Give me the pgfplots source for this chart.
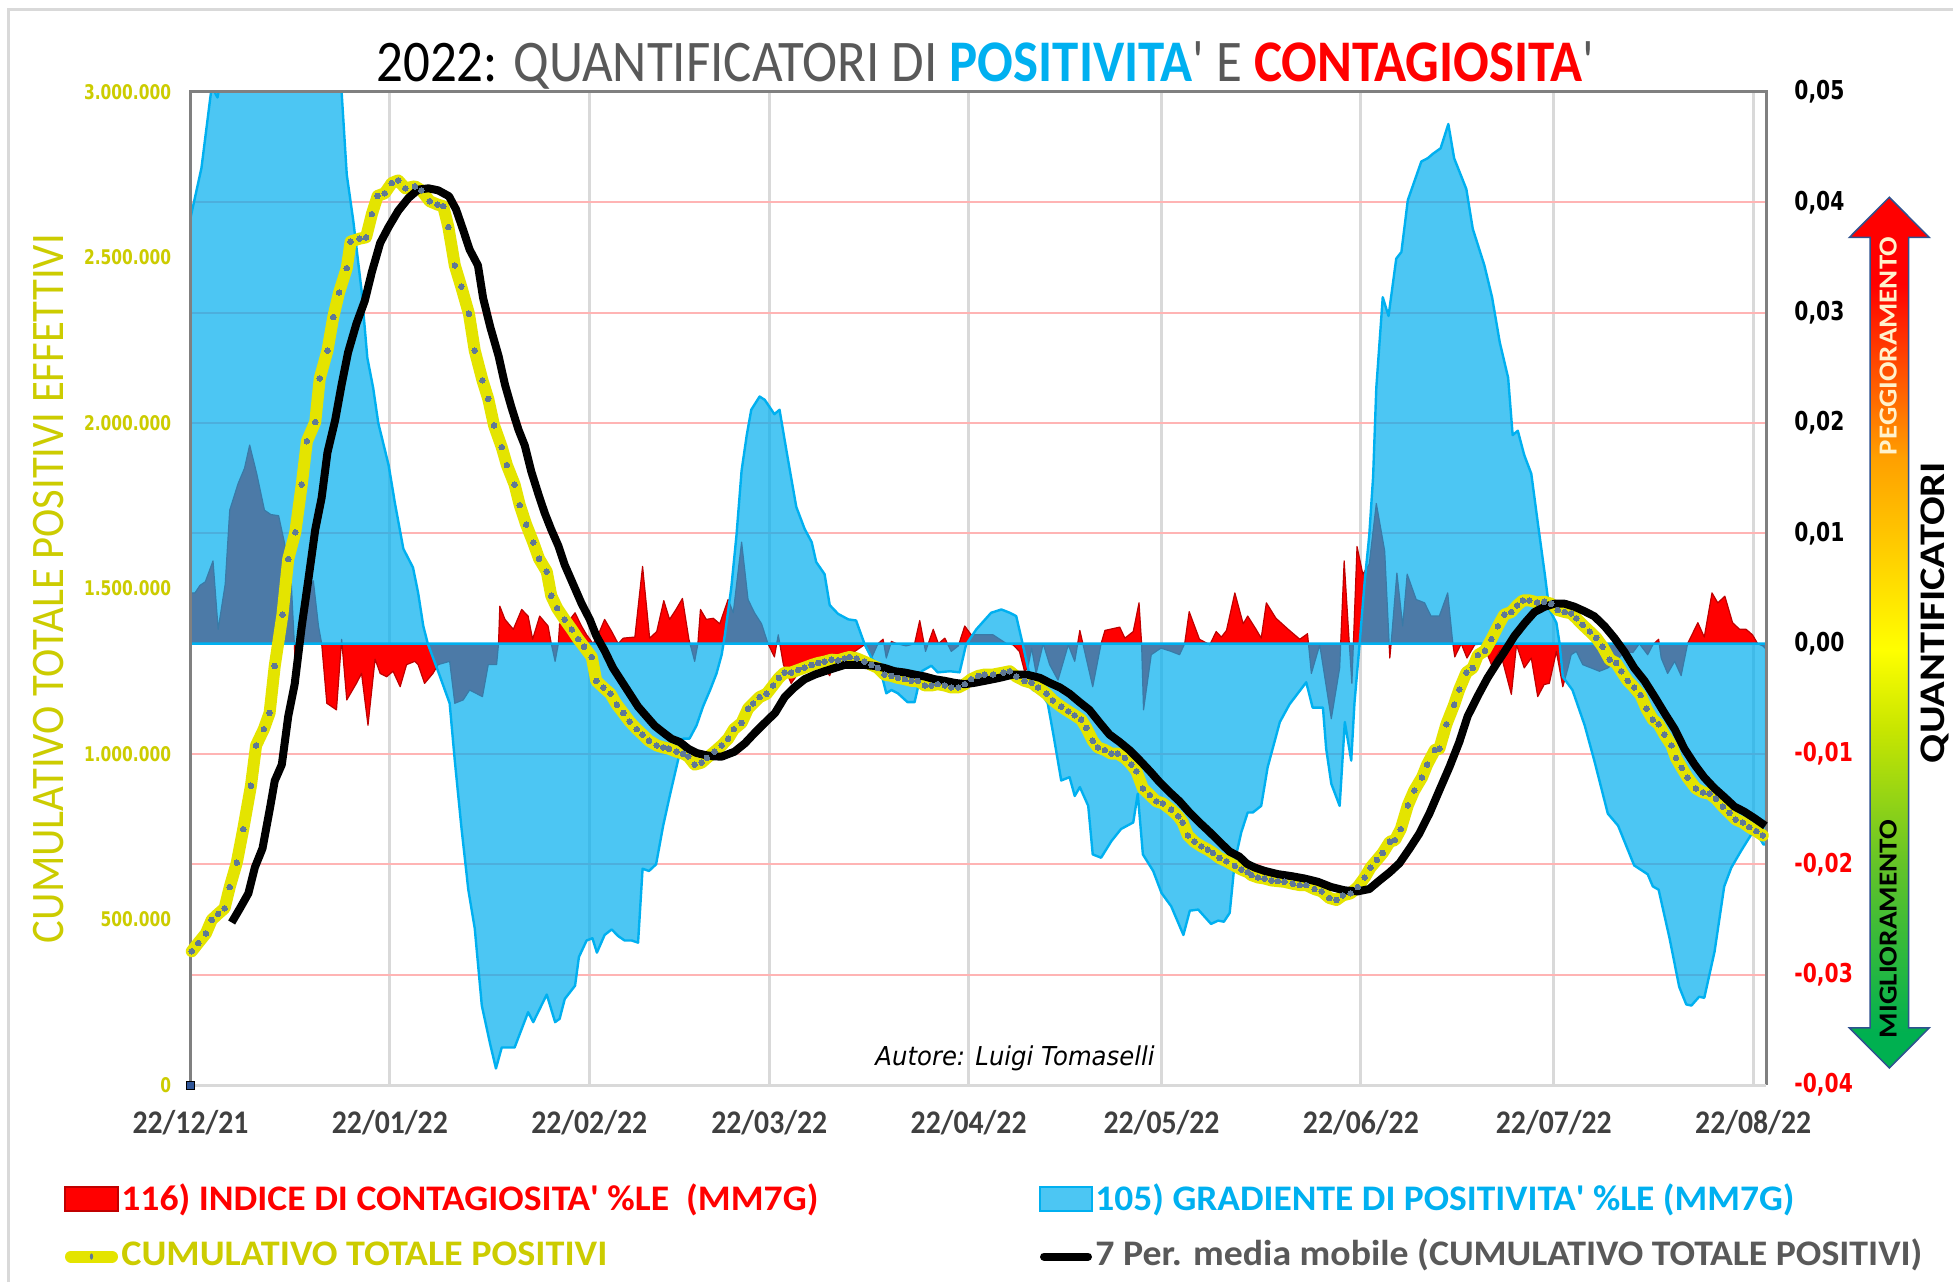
\documentclass[border=0pt]{standalone}
\usepackage{fontspec}
\setmainfont{Carlito}
\newfontfamily\dvs{DejaVu Sans}
\usepackage{graphicx}
\usepackage{pgfplots}
\pgfplotsset{compat=1.18}
\definecolor{cblue}{RGB}{0,174,239}
\definecolor{cblueline}{RGB}{0,176,240}
\definecolor{cred}{RGB}{255,0,0}
\definecolor{credline}{RGB}{192,0,0}
\definecolor{cyel}{RGB}{228,228,0}
\definecolor{colive}{RGB}{204,204,0}
\definecolor{cmark}{RGB}{95,120,150}
\definecolor{cgrid}{RGB}{255,180,180}
\definecolor{vgrid}{RGB}{217,217,217}
\definecolor{tgray}{RGB}{89,89,89}
\definecolor{xgray}{RGB}{64,64,64}
\definecolor{axgray}{RGB}{128,128,128}
\definecolor{arrowline}{RGB}{47,82,143}
\definecolor{sgreen}{RGB}{0,176,80}
\definecolor{sgm}{RGB}{100,195,40}
\definecolor{syg}{RGB}{200,230,0}
\definecolor{syel}{RGB}{255,255,0}
\definecolor{sorange}{RGB}{255,160,0}
\definecolor{sred}{RGB}{255,0,0}
\definecolor{cream}{RGB}{255,242,204}
\pgfdeclareverticalshading{arrowshade}{100bp}{color(0bp)=(sgreen); color(27bp)=(sgreen); color(36.7bp)=(sgm); color(44.5bp)=(syg); color(49bp)=(syel); color(60bp)=(sorange); color(70bp)=(sred); color(100bp)=(sred)}
\newcommand{\rtl}[2]{{\dvs\bfseries\fontsize{13pt}{13pt}\selectfont\textcolor{#1}{\scalebox{0.78}[1]{#2}}}}
\newcommand{\ltl}[1]{{\dvs\bfseries\fontsize{10.1pt}{10.1pt}\selectfont\textcolor{colive}{\scalebox{0.765}[1]{#1}}}}
\newcommand{\xtl}[1]{{\bfseries\fontsize{16.5pt}{16.5pt}\selectfont\textcolor{xgray}{\scalebox{0.9}[1]{#1}}}}
\begin{document}
\begin{tikzpicture}[x=1pt,y=1pt]
\path[use as bounding box] (0,0) rectangle (976.5,641);
\fill[white] (0,0) rectangle (976.5,641);
\draw[vgrid, line width=1.5pt] (4,0) -- (4,636.25) -- (976.5,636.25);
\begin{axis}[name=ax1, at={(95.25pt,98.5pt)}, anchor=south west, scale only axis,
  width=787.75pt, height=496.5pt,
  xmin=0, xmax=245, ymin=-0.04, ymax=0.05,
  axis x line*=bottom, axis y line*=right, axis line style={draw=none},
  tick style={draw=none}, scaled y ticks=false, scaled x ticks=false,
  xtick={0,31,62,90,121,151,182,212,243},
  xticklabels={{\xtl{22/12/21}},{\xtl{22/01/22}},{\xtl{22/02/22}},{\xtl{22/03/22}},{\xtl{22/04/22}},{\xtl{22/05/22}},{\xtl{22/06/22}},{\xtl{22/07/22}},{\xtl{22/08/22}}},
  xticklabel style={anchor=base, inner sep=0pt, yshift=-24pt},
  ytick={-0.04,-0.03,-0.02,-0.01,0,0.01,0.02,0.03,0.04,0.05},
  yticklabels={{\rtl{red}{-0,04}},{\rtl{red}{-0,03}},{\rtl{red}{-0,02}},{\rtl{red}{-0,01}},{\rtl{black}{0,00}},{\rtl{black}{0,01}},{\rtl{black}{0,02}},{\rtl{black}{0,03}},{\rtl{black}{0,04}},{\rtl{black}{0,05}}},
  yticklabel style={anchor=west, inner sep=0pt, xshift=14pt},
  xmajorgrids, ymajorgrids,
  x grid style={vgrid, line width=1.5pt},
  y grid style={cgrid, line width=1pt},
  clip=true]
% 116) INDICE DI CONTAGIOSITA' %LE (MM7G)
\addplot[fill=cred, draw=credline, line width=0.6pt, line join=round] coordinates {
(0,0.0046)(0.7,0.0046)(1.5,0.0053)(2.3,0.0056)(3.5,0.0075)(4.3,0.0013)(5.4,0.0054)(6.1,0.0121)(7.4,0.0145)(8.4,0.0159)(9.2,0.018)(10.3,0.0154)(11.5,0.0121)(12.5,0.0117)(13.7,0.0116)(14.7,0.0089)(15.6,0.0063)(16.1,0.0005)(16.5,-0.0042)(17,-0.0007)(17.5,0)(18.3,0.0046)(19.1,0.0057)(19.9,0.0016)(20.4,0)(21.2,-0.0054)(22.7,-0.006)(23.5,0.0004)(24.3,-0.0051)(25.8,-0.0036)(26.6,-0.0027)(27.6,-0.0074)(28.7,-0.0014)(29.5,-0.0027)(30.5,-0.003)(31.5,-0.0025)(32.6,-0.0039)(33.6,-0.0019)(34.9,-0.0016)(35.4,-0.0019)(36.4,-0.0036)(37.7,-0.0027)(38.5,-0.0019)(40.3,-0.0016)(41.1,-0.0054)(42.4,-0.0051)(43.4,-0.0042)(45.4,-0.0048)(46.3,-0.0019)(47.6,-0.0019)(47.9,0)(48.1,0.0034)(48.9,0.0022)(50.2,0.0013)(51.5,0.0031)(52.5,0.0025)(53.2,0.0004)(54.3,0.0025)(55.6,0.0016)(56.1,0)(56.7,-0.0016)(57.2,0)(57.4,0.0018)(58.5,0.0018)(59.8,0.0028)(60.8,0.0016)(61.6,0.0008)(62.6,0)(63.4,0.0008)(64.4,0.0022)(65.5,0.0011)(66.5,0)(67.3,0.0005)(69.1,0.0006)(70.3,0.007)(71.4,0.0005)(72.5,0.0011)(73.6,0.0039)(74.5,0.0022)(75.5,0.0031)(76.5,0.0041)(77.5,0.0004)(78.4,-0.0016)(78.9,0)(79.3,0.0031)(80.2,0.0022)(81.3,0.0023)(82.3,0.0018)(83.6,0.004)(84.4,0.0028)(85.7,0.0092)(86.7,0.004)(87.7,0.0028)(88.8,0.0018)(89.8,0)(90.8,-0.0012)(91.4,0.0008)(92.2,-0.0019)(93.4,-0.0036)(94.5,-0.0027)(95.8,-0.0022)(97.1,-0.0019)(98.4,-0.0022)(99.4,-0.0029)(100.2,-0.0013)(101.2,-0.001)(103.3,-0.0007)(104.8,-0.0001)(105.9,-0.0013)(106.9,0)(107.7,0.0004)(108.2,-0.0013)(109,0.0002)(109.8,0)(111.3,-0.0002)(112.6,0)(113.4,0.0021)(114.3,-0.0007)(115.5,0.0013)(116.3,0)(117.3,0.0005)(118.3,-0.0007)(119.4,-0.0002)(120.4,0.0016)(121.4,0.0008)(122.7,0.0008)(124.8,0.0008)(126.9,0)(127.9,-0.0001)(128.9,-0.0007)(129.7,-0.0025)(130.2,-0.0022)(130.8,-0.0004)(131.5,-0.0027)(132.6,0)(133.6,-0.0019)(134.9,-0.0033)(136.5,-0.0001)(137.5,-0.0016)(138.3,0.0012)(140.3,-0.0039)(141.6,0)(142.2,0.0012)(144.5,0.0015)(145.3,0.0005)(146.6,0.0011)(147.5,0.0037)(147.9,0)(148.2,-0.006)(149.4,-0.001)(150.9,-0.0004)(152.5,-0.0007)(153.8,-0.001)(154.6,0)(155.3,0.0029)(156.9,0.0004)(158.5,-0.0001)(159.5,0.0011)(160.3,0.0006)(161.1,0.0012)(162.4,0.0046)(163.7,0.0018)(164.4,0.0025)(165.7,0.0013)(166.5,0.0005)(167.3,0.0037)(168.8,0.0023)(170.7,0.0013)(172.5,0.0004)(173.7,0.0009)(174.3,-0.0027)(175.6,-0.0001)(177.4,-0.0068)(178.7,-0.0022)(179.4,0.0075)(180.2,0)(180.6,-0.0036)(181.4,0.0088)(182.3,0.0063)(183.3,0.0072)(184.4,0.0127)(185.7,0.0084)(186.5,-0.0013)(186.7,0)(187.6,0.0064)(188.5,0.0016)(189.2,0.0063)(190.6,0.004)(191.9,0.0037)(192.9,0.0025)(194.2,0.0025)(195.5,0.0046)(196.3,0)(196.6,-0.0012)(197.6,0)(198.5,-0.0013)(199.7,-0.0001)(201,0)(202.3,-0.0019)(203.6,-0.0006)(205.4,-0.0046)(206.2,-0.0001)(207.4,-0.0022)(208.5,-0.0013)(209.5,-0.0048)(210.5,-0.0037)(211.3,-0.0036)(212.4,-0.0007)(213.4,-0.0039)(214.2,-0.0022)(214.7,-0.001)(215.5,-0.0007)(216.5,-0.0019)(217.8,-0.0022)(219.1,-0.0025)(220.4,-0.0022)(221.7,-0.0016)(223,-0.0007)(224.3,-0.0008)(225.3,0)(226.6,-0.001)(227.4,-0.0001)(228.3,0.0004)(228.7,-0.0013)(229.7,-0.0027)(230.8,-0.0016)(231.8,-0.0029)(232.8,0)(234.4,0.0019)(235.4,0.0006)(236.6,0.0046)(237.5,0.0037)(238.6,0.0043)(239.8,0.0019)(240.9,0.0013)(241.9,0.0013)(242.9,0.0008)(243.7,0)(244.5,-0.0002)(245,-0.0005)
} \closedcycle;
% 105) GRADIENTE DI POSITIVITA' %LE (MM7G)
\addplot[fill=cblue, fill opacity=0.7, draw=cblueline, line width=1.2pt, line join=round] coordinates {
(0,0.0386)(1.7,0.0431)(3.3,0.0505)(4.2,0.0495)(4.8,0.0515)(7,0.06)(10,0.068)(13,0.072)(16,0.07)(19,0.065)(22,0.058)(23.3,0.051)(23.5,0.05)(24.3,0.0425)(25.3,0.0384)(26.6,0.032)(27.5,0.0259)(28.4,0.0232)(29.2,0.02)(30.8,0.0162)(31.8,0.0127)(33.1,0.0086)(34.6,0.0069)(35.4,0.0046)(36.2,0.0016)(36.9,0)(38.5,-0.0025)(40.3,-0.0054)(41.1,-0.0106)(42.1,-0.0165)(43.2,-0.0223)(44.2,-0.0258)(45.3,-0.0328)(46.6,-0.0363)(47.5,-0.0385)(48.4,-0.0366)(50.4,-0.0366)(52.5,-0.0334)(53.3,-0.0343)(55.4,-0.0318)(56.7,-0.0343)(57.4,-0.034)(58.2,-0.0322)(59.8,-0.031)(60.4,-0.0284)(61.6,-0.0269)(62.5,-0.0267)(63.2,-0.028)(64.4,-0.0264)(65.5,-0.0259)(66.5,-0.0265)(67.5,-0.0269)(68.6,-0.0269)(69.6,-0.0271)(70.3,-0.0204)(71.3,-0.0206)(72.4,-0.02)(73.5,-0.0165)(74.6,-0.0136)(75.8,-0.0106)(76.6,-0.0086)(77.6,-0.0086)(78.7,-0.0074)(79.7,-0.0057)(80.8,-0.0042)(81.8,-0.0027)(82.6,-0.001)(83.1,0.0008)(84.1,0.0051)(84.9,0.0098)(85.7,0.0157)(86.5,0.0189)(87.2,0.0212)(88.5,0.0224)(89.3,0.0221)(90.8,0.0208)(91.6,0.0212)(92.7,0.0174)(94.2,0.0124)(95.5,0.0104)(96.6,0.0092)(97.3,0.0074)(98.6,0.0063)(99.4,0.0035)(100.7,0.0027)(102.3,0.0022)(103.5,0.0021)(104.8,0)(105.9,-0.0013)(107.2,-0.0022)(108.2,-0.0045)(109,-0.0042)(110,-0.0045)(111.5,-0.0053)(112.6,-0.0053)(113.7,-0.0025)(115.2,-0.002)(116.2,-0.0026)(118.1,-0.0025)(119.6,-0.0026)(120.6,-0.0001)(122.2,0.0013)(124.5,0.0028)(126.1,0.0031)(127.4,0.0028)(128.4,0.0025)(129.2,0.0005)(130,-0.0016)(131,-0.0042)(132.3,-0.0045)(133.3,-0.0054)(134.2,-0.0083)(135.4,-0.0124)(136.7,-0.0121)(137.5,-0.0138)(138.3,-0.013)(139.6,-0.0147)(140.3,-0.0191)(141.6,-0.0194)(143.2,-0.0179)(144.7,-0.0168)(146.6,-0.0162)(147.3,-0.0136)(148.1,-0.0191)(149.7,-0.0206)(151,-0.0226)(152.5,-0.0238)(154.4,-0.0264)(155.4,-0.0242)(156.7,-0.0241)(158.7,-0.0254)(159.8,-0.0251)(160.7,-0.0252)(161.6,-0.0244)(162.4,-0.0197)(163.4,-0.0171)(164.4,-0.0153)(165.2,-0.0153)(166.5,-0.0147)(167.5,-0.0112)(169.4,-0.0071)(170.9,-0.0055)(172.2,-0.0045)(173.5,-0.0035)(174.5,-0.0058)(176.1,-0.0058)(176.6,-0.0095)(177.4,-0.0127)(178.7,-0.0147)(179.5,-0.0071)(180.5,-0.0106)(181,-0.0054)(181.8,0)(182.6,0.0057)(183.3,0.0098)(183.9,0.0151)(184.4,0.0232)(185.4,0.0314)(186.3,0.0297)(187.5,0.0349)(188.3,0.0355)(189.3,0.0402)(191.4,0.0437)(192.4,0.044)(193.2,0.0444)(194.4,0.0449)(195.6,0.0471)(196.5,0.044)(198.4,0.0412)(199.4,0.0376)(201.2,0.0343)(202.4,0.0314)(203.6,0.0273)(204.9,0.0241)(205.6,0.0189)(206.4,0.0193)(207.4,0.0171)(208.5,0.0154)(209.5,0.011)(210.6,0.0063)(211.3,0.0031)(212.4,0.0019)(212.9,0)(213.4,-0.003)(214.9,-0.0042)(216.8,-0.0074)(218.3,-0.0106)(220.4,-0.0154)(222,-0.0165)(224.5,-0.0201)(226.6,-0.0209)(227.4,-0.022)(228.3,-0.0223)(230,-0.0267)(231.5,-0.0311)(232.6,-0.0327)(233.4,-0.0328)(234.6,-0.032)(235.4,-0.0321)(237,-0.0279)(238.5,-0.022)(239.6,-0.0203)(241.1,-0.0188)(242.7,-0.0173)(243.7,-0.0173)(244.6,-0.0182)(245,-0.0182)
} \closedcycle;
\end{axis}
\draw[axgray, line width=1.5pt] (ax1.south west) -- (ax1.north west) -- (ax1.north east) -- (ax1.south east);
\draw[vgrid, line width=1.5pt] (ax1.south west) -- (ax1.south east);
\begin{axis}[at={(95.25pt,98.5pt)}, anchor=south west, scale only axis,
  width=787.75pt, height=496.5pt,
  xmin=0, xmax=245, ymin=0, ymax=3000000,
  axis x line*=bottom, axis y line*=left, axis line style={draw=none},
  tick style={draw=none}, scaled y ticks=false, xtick=\empty,
  ytick={0,500000,1000000,1500000,2000000,2500000,3000000},
  yticklabels={{\ltl{0}},{\ltl{500.000}},{\ltl{1.000.000}},{\ltl{1.500.000}},{\ltl{2.000.000}},{\ltl{2.500.000}},{\ltl{3.000.000}}},
  yticklabel style={anchor=east, inner sep=0pt, xshift=-9.5pt},
  clip=false]
% CUMULATIVO TOTALE POSITIVI
\addplot[cyel, line width=6pt, line join=round, line cap=round, mark=*, mark size=1.4pt, mark options={fill=cmark, draw=cmark, line width=0pt}] coordinates {
(0.2,404000)(1.2,429000)(2.4,458000)(3.3,499000)(4.3,517000)(5.3,534000)(6.1,598000)(7.2,672000)(8.2,773000)(9.4,904000)(10.2,1026000)(11.4,1075000)(12.3,1124000)(13.1,1266000)(14.3,1421000)(15.2,1589000)(16.3,1670000)(17.3,1814000)(18.1,1945000)(19.4,2003000)(20.1,2135000)(21.3,2219000)(22.2,2320000)(23.1,2394000)(24.3,2468000)(24.9,2548000)(26.3,2557000)(27.3,2561000)(28.2,2631000)(29.1,2686000)(30.2,2694000)(31.3,2725000)(32.3,2733000)(33.4,2709000)(34.9,2715000)(35.9,2703000)(37.2,2670000)(38.4,2660000)(39.3,2655000)(40.1,2592000)(41.1,2476000)(42.1,2412000)(43.3,2330000)(44.2,2219000)(45.4,2129000)(46.3,2073000)(47.2,1993000)(48.4,1927000)(49.2,1873000)(50.4,1814000)(51.2,1752000)(52.2,1693000)(53.3,1639000)(54.2,1590000)(55.4,1551000)(56.1,1478000)(57,1441000)(58.2,1406000)(59.3,1376000)(60.3,1347000)(61.2,1324000)(62.4,1293000)(63.1,1221000)(64.2,1201000)(65.3,1182000)(66.3,1149000)(67.3,1124000)(68.3,1098000)(69.4,1075000)(70.3,1059000)(71.3,1040000)(72.5,1026000)(73.5,1020000)(74.4,1016000)(75.6,1007000)(76.6,1001000)(77.4,993000)(78.4,968000)(79.5,974000)(80.3,988000)(81.5,1007000)(82.6,1026000)(83.6,1046000)(84.5,1075000)(85.7,1094000)(86.7,1137000)(87.5,1153000)(88.5,1172000)(89.6,1182000)(90.6,1207000)(91.5,1230000)(92.4,1246000)(93.4,1246000)(94.5,1254000)(95.5,1261000)(96.6,1269000)(97.6,1275000)(98.6,1279000)(99.7,1285000)(100.7,1283000)(101.7,1289000)(102.5,1293000)(103.6,1289000)(104.8,1279000)(105.9,1269000)(106.9,1260000)(107.9,1240000)(109,1236000)(110,1230000)(111.1,1226000)(112.1,1221000)(113.1,1221000)(114.2,1207000)(115.2,1207000)(116.2,1211000)(117.3,1207000)(118.3,1201000)(119.4,1201000)(120.4,1211000)(121.4,1226000)(122.5,1236000)(123.5,1240000)(124.8,1240000)(126.4,1246000)(127.4,1250000)(128.4,1234000)(129.7,1221000)(130.8,1215000)(131.8,1201000)(133.1,1182000)(134.1,1162000)(135.4,1143000)(136.5,1129000)(137.5,1117000)(138.5,1104000)(139.3,1079000)(140.3,1040000)(141.1,1020000)(142.2,1012000)(143.2,1001000)(144.2,1001000)(145.3,988000)(146.3,968000)(147.1,948000)(148.1,896000)(149.2,876000)(150.2,857000)(151.2,851000)(152.5,832000)(153.6,812000)(154.3,793000)(155.1,754000)(156.1,735000)(157.2,721000)(158.2,711000)(159,701000)(160,686000)(161.1,676000)(162.4,662000)(163.4,651000)(164.4,643000)(165,634000)(166,627000)(167,624000)(168.1,618000)(169.1,616000)(170.1,614000)(171.4,608000)(172.5,604000)(173.5,604000)(174.8,592000)(175.9,585000)(177.1,565000)(178.2,559000)(179.2,573000)(180.4,579000)(181.5,598000)(182.6,627000)(183.5,657000)(184.5,680000)(185.4,701000)(186.5,735000)(187.3,740000)(188.2,773000)(189.3,845000)(190.3,890000)(191.5,929000)(192.3,968000)(193.5,1012000)(194.2,1016000)(195.3,1090000)(196.5,1149000)(197.3,1195000)(198.4,1246000)(199.4,1260000)(200.2,1299000)(201.3,1312000)(202.3,1347000)(203.3,1386000)(204.3,1421000)(205.4,1429000)(206.3,1449000)(207.2,1464000)(208.2,1464000)(209.4,1458000)(210.5,1460000)(211.6,1454000)(212.6,1435000)(213.7,1429000)(214.7,1425000)(215.5,1410000)(216.5,1390000)(217.6,1370000)(218.6,1351000)(219.6,1324000)(220.7,1285000)(221.7,1275000)(222.5,1250000)(223.5,1221000)(224.5,1201000)(225.5,1178000)(226.4,1137000)(227.4,1104000)(228.3,1090000)(229.2,1059000)(230.3,1026000)(231,988000)(231.9,958000)(232.8,929000)(234.1,896000)(235.2,884000)(236.2,880000)(237.2,865000)(238.3,841000)(239.3,822000)(240.3,802000)(241.4,793000)(242.4,779000)(243.5,767000)(244.5,754000)
};
% 7 Per. media mobile
\addplot[black, line width=4pt, line join=round] coordinates {
(6.4,491000)(7.7,534000)(9,579000)(10,657000)(11.2,715000)(12.4,841000)(13.1,919000)(14.2,968000)(15.2,1114000)(16.2,1211000)(17.3,1386000)(18.3,1523000)(19.4,1678000)(20.4,1775000)(21.3,1911000)(22.5,2009000)(23.5,2116000)(24.5,2213000)(25.8,2300000)(27.1,2369000)(28.2,2456000)(29.5,2544000)(30.8,2592000)(32.3,2641000)(33.9,2680000)(35.4,2705000)(37,2709000)(38.5,2703000)(40.2,2685000)(41.3,2645000)(42.4,2583000)(43.4,2524000)(44.7,2476000)(45.5,2378000)(46.6,2291000)(47.9,2203000)(48.9,2116000)(49.9,2048000)(51,1980000)(52,1931000)(53,1853000)(54.1,1785000)(55.1,1727000)(56.1,1678000)(57.2,1629000)(58.2,1571000)(59.5,1513000)(60.8,1455000)(62.1,1406000)(63.1,1357000)(64.4,1312000)(65.7,1260000)(67,1221000)(68.3,1182000)(69.6,1143000)(70.9,1114000)(72.2,1085000)(73.5,1065000)(74.8,1046000)(76.1,1036000)(77.4,1016000)(78.7,1003000)(80,997000)(81.3,993000)(82.6,992000)(84.6,1007000)(86.2,1032000)(87.8,1065000)(89.3,1094000)(90.9,1124000)(92.4,1172000)(93.9,1201000)(95.5,1226000)(97.1,1240000)(98.6,1250000)(100.2,1260000)(101.7,1269000)(103.3,1269000)(104.8,1269000)(106.4,1266000)(107.9,1260000)(109.5,1250000)(111.1,1246000)(112.6,1240000)(114.2,1234000)(115.7,1226000)(117.3,1221000)(118.8,1215000)(120.4,1211000)(121.9,1215000)(123.5,1221000)(125.8,1230000)(127.9,1240000)(130,1240000)(132.1,1230000)(133.6,1215000)(135.2,1201000)(136.7,1182000)(138.3,1156000)(139.8,1133000)(141.4,1094000)(142.9,1059000)(144.5,1036000)(146,1012000)(147.6,981000)(149.2,948000)(150.7,915000)(152.3,884000)(153.8,857000)(155.4,822000)(156.9,793000)(158.5,764000)(160,735000)(161.6,705000)(163.1,690000)(164.3,668000)(165.5,657000)(167,647000)(169.1,637000)(171.2,631000)(173.2,624000)(175.3,614000)(177.4,598000)(179.5,588000)(181.5,585000)(183.3,592000)(184.9,618000)(186.5,643000)(188,670000)(189.6,715000)(191.1,760000)(192.7,822000)(194.2,890000)(195.8,962000)(197.3,1036000)(198.6,1114000)(200.2,1176000)(201.7,1230000)(203.3,1279000)(204.3,1308000)(205.9,1357000)(207.5,1396000)(209,1429000)(210.6,1445000)(212.1,1454000)(213.7,1454000)(215.2,1445000)(216.8,1431000)(218.3,1416000)(219.9,1386000)(221.4,1351000)(223,1308000)(224.5,1260000)(226.1,1221000)(227.7,1172000)(229.2,1124000)(230.8,1075000)(232.3,1016000)(233.9,968000)(235.4,929000)(237,896000)(238.5,870000)(240.1,841000)(241.6,826000)(243.2,806000)(244.9,783000)
};
\addplot[only marks, mark=square*, mark size=2pt, mark options={fill={rgb,255:red,47;green,85;blue,151}, draw=black, line width=0.5pt}] coordinates {(0,0)};
\end{axis}
% title
\node[anchor=base west, inner sep=0pt] at (188,600) {\fontsize{29.5pt}{29.5pt}\selectfont\resizebox{609pt}{\height}{\textcolor{black}{2022:} \textcolor{tgray}{QUANTIFICATORI DI} \textcolor{cblueline}{\bfseries POSITIVITA}\textcolor{tgray}{\textquotesingle{} E} \textcolor{red}{\bfseries CONTAGIOSITA}\textcolor{tgray}{\textquotesingle}}};
% left axis title
\node[rotate=90, anchor=base, inner sep=0pt] at (31.5,346.75) {\fontsize{23.3pt}{23.3pt}\selectfont\textcolor{colive}{\resizebox{354.5pt}{\height}{CUMULATIVO TOTALE POSITIVI EFFETTIVI}}};
% author
\node[anchor=base, inner sep=0pt] at (507.5,108.5) {\dvs\itshape\fontsize{13pt}{13pt}\selectfont\resizebox{139.5pt}{\height}{Autore: Luigi Tomaselli}};
% arrow
\shadedraw[shading=arrowshade, draw=arrowline, line width=0.75pt, line join=miter] (944.65,542.35) -- (964.65,522.25) -- (954.35,522.25) -- (954.35,127.1) -- (964.65,127.1) -- (944.65,107) -- (924.65,127.1) -- (935,127.1) -- (935,522.25) -- (924.65,522.25) -- cycle;
\node[rotate=90, anchor=base, inner sep=0pt] at (948.3,468) {\bfseries\fontsize{13pt}{13pt}\selectfont\textcolor{cream}{\resizebox{109pt}{\height}{PEGGIORAMENTO}}};
\node[rotate=90, anchor=base, inner sep=0pt] at (948.3,176.5) {\bfseries\fontsize{13pt}{13pt}\selectfont\textcolor{black}{\resizebox{109pt}{\height}{MIGLIORAMENTO}}};
\node[rotate=90, anchor=base, inner sep=0pt] at (972,334.75) {\bfseries\fontsize{18pt}{18pt}\selectfont\textcolor{black}{\resizebox{150.5pt}{\height}{QUANTIFICATORI}}};
% legend
\filldraw[fill=cred, draw=credline, line width=0.8pt] (32.5,35.6) rectangle (59,47.4);
\node[anchor=base west, inner sep=0pt] at (60.5,36) {\bfseries\fontsize{18pt}{18pt}\selectfont\textcolor{cred}{\resizebox{348.5pt}{\height}{116) INDICE DI CONTAGIOSITA\textquotesingle{} \%LE\ \ (MM7G)}}};
\filldraw[fill=cblue, fill opacity=0.7, draw=cblueline, line width=0.8pt] (520,35.6) rectangle (546,47.4);
\node[anchor=base west, inner sep=0pt] at (547.5,36) {\bfseries\fontsize{18pt}{18pt}\selectfont\textcolor{cblueline}{\resizebox{349.5pt}{\height}{105) GRADIENTE DI POSITIVITA\textquotesingle{} \%LE (MM7G)}}};
\draw[cyel, line width=6pt, line cap=round] (35.5,12.75) -- (56,12.75);
\fill[cmark] (45.75,12.75) ellipse (0.8pt and 1.6pt);
\node[anchor=base west, inner sep=0pt] at (60.5,8.5) {\bfseries\fontsize{18pt}{18pt}\selectfont\textcolor{colive}{\resizebox{243pt}{\height}{CUMULATIVO TOTALE POSITIVI}}};
\draw[black, line width=4pt, line cap=round] (522,12.75) -- (544,12.75);
\node[anchor=base west, inner sep=0pt] at (547.5,8.5) {\bfseries\fontsize{18pt}{18pt}\selectfont\textcolor{tgray}{\resizebox{413.5pt}{\height}{7 Per. media mobile (CUMULATIVO TOTALE POSITIVI)}}};
\end{tikzpicture}
\end{document}
